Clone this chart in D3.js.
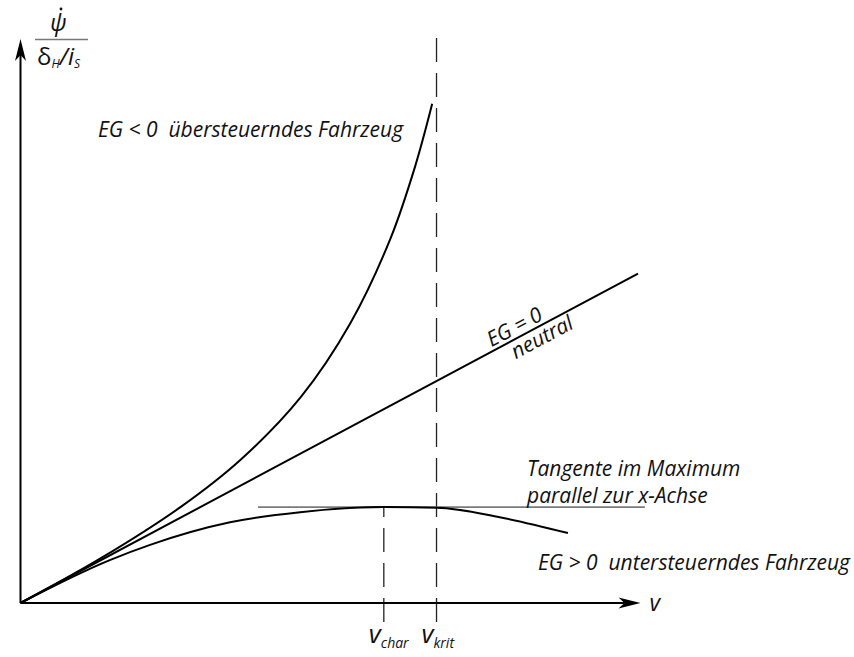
<html>

<head>
  <script src="https://d3js.org/d3.v7.min.js"></script>

  <style>
    body {
      margin: 0;
      background: #fff;
    }

    text {
      font-family: "Open Sans", sans-serif;
      font-style: italic;
      fill: #111;
      white-space: pre;
    }
  </style>

</head>

<body>
  <svg id="chart" width="854" height="657"></svg>

  <script>
    // values (arbitrary units, both axes 0..100)
    const oversteerV = [0, 12.9, 25.8, 35.5, 45.2, 53.2, 59.7, 63.7, 66.4];
    const oversteerGain = [0, 7.9, 17.0, 25.4, 36.5, 49.6, 64.7, 77.6, 88.5];

    const neutralV = [0, 99.6];
    const neutralGain = [0, 58.4];

    const understeerV = [0, 14.4, 20.9, 33.8, 45.1, 58.6, 67.2, 77.3, 88.3];
    const understeerGain = [0, 7.6, 10.3, 14.3, 16.1, 17.0, 16.9, 15.2, 12.4];

    const vChar = 58.6;
    const vKrit = 67.1;
    const tangentV = [38.3, 100.7];
    const tangentGain = 17.0;

    const svg = d3.select("svg#chart");

    const x = d3.scaleLinear().domain([0, 100]).range([20.5, 640.5]);
    const y = d3.scaleLinear().domain([0, 100]).range([603, 39]);

    const line = d3.line()
      .x(d => x(d[0]))
      .y(d => y(d[1]));

    const zip = (a, b) => a.map((v, i) => [v, b[i]]);

    // dashed markers for v_char and v_krit (drawn from below the axis upwards)
    let markers = svg.append("g").attr("id", "markers");
    [[vKrit, 101.6], [vChar, tangentGain]].forEach(m => {
      markers.append("line")
        .attr("x1", x(m[0]))
        .attr("x2", x(m[0]))
        .attr("y1", y(0) + 19)
        .attr("y2", y(m[1]))
        .attr("stroke", "#222")
        .attr("stroke-width", 1.3)
        .attr("stroke-dasharray", "24,11");
    });

    // tangent at the maximum
    svg.append("line")
      .attr("x1", x(tangentV[0]))
      .attr("x2", x(tangentV[1]))
      .attr("y1", y(tangentGain))
      .attr("y2", y(tangentGain))
      .attr("stroke", "#7a7a7a")
      .attr("stroke-width", 1.6);

    // curves
    let curves = svg.append("g").attr("id", "curves")
      .attr("fill", "none")
      .attr("stroke", "#000")
      .attr("stroke-width", 2);

    curves.append("path")
      .attr("d", line.curve(d3.curveCatmullRom.alpha(0.5))(zip(oversteerV, oversteerGain)));
    curves.append("path")
      .attr("d", line.curve(d3.curveLinear)(zip(neutralV, neutralGain)));
    curves.append("path")
      .attr("d", line.curve(d3.curveMonotoneX)(zip(understeerV, understeerGain)));

    // axes with arrow heads
    let axes = svg.append("g").attr("id", "axes");
    axes.append("line")
      .attr("x1", x(0)).attr("y1", y(0))
      .attr("x2", x(100) - 16).attr("y2", y(0))
      .attr("stroke", "#000").attr("stroke-width", 2);
    axes.append("line")
      .attr("x1", x(0)).attr("y1", y(0))
      .attr("x2", x(0)).attr("y2", y(100) + 16)
      .attr("stroke", "#000").attr("stroke-width", 2);

    const arrow = "M0,0 L-22,-5.5 L-16,0 L-22,5.5 Z";
    axes.append("path")
      .attr("d", arrow)
      .attr("transform", "translate(" + x(100) + "," + y(0) + ")");
    axes.append("path")
      .attr("d", arrow)
      .attr("transform", "translate(" + x(0) + "," + y(100) + ") rotate(-90)");

    // axis labels
    svg.append("text")
      .attr("x", x(100) + 9)
      .attr("y", y(0) + 8)
      .attr("font-size", "23px")
      .text("v");

    [[vChar, "char"], [vKrit, "krit"]].forEach(m => {
      let t = svg.append("text")
        .attr("x", x(m[0]) - 15)
        .attr("y", y(0) + 40)
        .attr("font-size", "26px");
      t.append("tspan").text("v");
      t.append("tspan").attr("font-size", "14px").attr("dy", 5).text(m[1]);
    });

    // y label: yaw rate over steering angle
    svg.append("text")
      .attr("x", 50)
      .attr("y", 31)
      .attr("font-size", "23px")
      .text("ψ");
    svg.append("circle")
      .attr("cx", 61).attr("cy", 9)
      .attr("r", 1.4)
      .attr("fill", "#111");
    svg.append("line")
      .attr("x1", 35).attr("x2", 88)
      .attr("y1", 39.5).attr("y2", 39.5)
      .attr("stroke", "#777").attr("stroke-width", 1.5);
    let frac = svg.append("text")
      .attr("x", 37)
      .attr("y", 65)
      .attr("font-size", "24px");
    frac.append("tspan").attr("font-style", "normal").text("δ");
    frac.append("tspan").attr("font-size", "12px").attr("dy", 3).text("H");
    frac.append("tspan").attr("dy", -3).text("/i");
    frac.append("tspan").attr("font-size", "12px").attr("dy", 3).text("S");

    // annotations
    svg.append("text")
      .attr("x", 98).attr("y", 137)
      .attr("font-size", "21px")
      .text("EG < 0  übersteuerndes Fahrzeug");

    svg.append("text")
      .attr("x", 527).attr("y", 476)
      .attr("font-size", "21px")
      .text("Tangente im Maximum");
    svg.append("text")
      .attr("x", 527).attr("y", 503)
      .attr("font-size", "21px")
      .text("parallel zur x-Achse");

    svg.append("text")
      .attr("x", 538).attr("y", 570)
      .attr("font-size", "21px")
      .text("EG > 0  untersteuerndes Fahrzeug");

    const angle = Math.atan2(y(0) - y(neutralGain[1]), x(neutralV[1]) - x(0)) * 180 / Math.PI;
    const onLine = v => [x(v), y(v * neutralGain[1] / neutralV[1])];
    let p1 = onLine(80.5);
    svg.append("text")
      .attr("transform", "translate(" + p1[0] + "," + p1[1] + ") rotate(" + (-angle) + ")")
      .attr("y", -4)
      .attr("text-anchor", "middle")
      .attr("font-size", "21px")
      .text("EG = 0");
    let p2 = onLine(83.3);
    svg.append("text")
      .attr("transform", "translate(" + p2[0] + "," + p2[1] + ") rotate(" + (-angle) + ")")
      .attr("y", 18)
      .attr("text-anchor", "middle")
      .attr("font-size", "21px")
      .text("neutral");
  </script>

</body>

</html>
